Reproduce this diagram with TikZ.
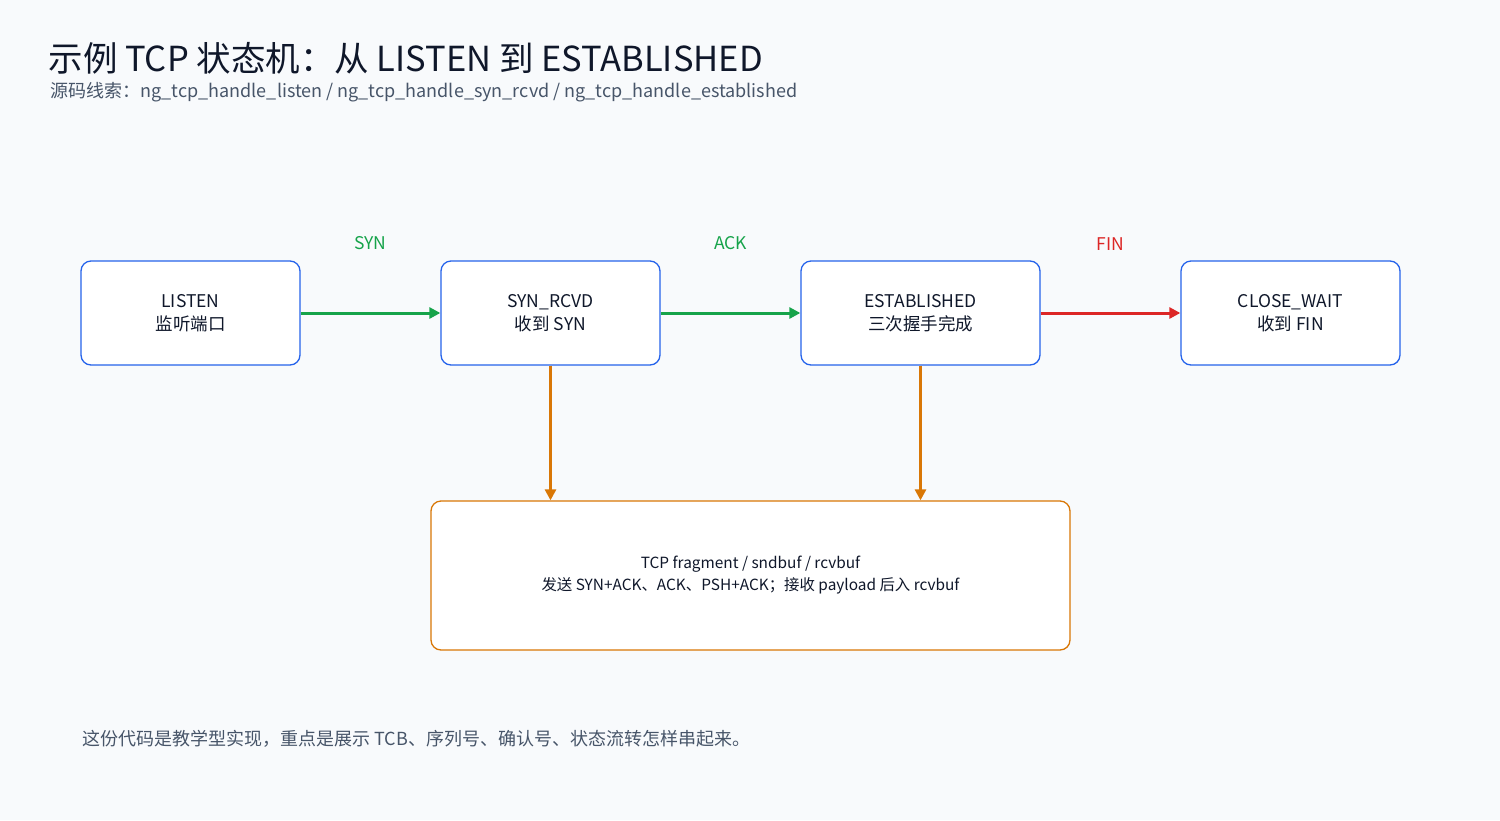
\documentclass[tikz,border=0pt]{standalone}
\usepackage{fontspec}
\setmainfont{Noto Sans CJK SC}
\usetikzlibrary{arrows.meta,positioning}
\definecolor{bgc}{HTML}{F8FAFC}
\definecolor{stateblue}{HTML}{2563EB}
\definecolor{okgreen}{HTML}{16A34A}
\definecolor{finred}{HTML}{DC2626}
\definecolor{bufor}{HTML}{D97706}
\definecolor{titlec}{HTML}{0F172A}
\definecolor{subc}{HTML}{475569}
\tikzset{
  state/.style={draw=stateblue,line width=1.3pt,fill=white,rounded corners=10pt,
    minimum height=104pt,align=center,font=\fontsize{17.5}{23}\selectfont,text=titlec},
  trans/.style={line width=3pt,-{Triangle[length=11pt,width=11pt]}},
  lbl/.style={font=\fontsize{17.5}{20}\selectfont}
}
\begin{document}
\begin{tikzpicture}[x=1pt,y=1pt,yscale=-1]
\fill[bgc] (0,0) rectangle (1500,820);
\useasboundingbox (0,0) rectangle (1500,820);

% title
\node[anchor=west,text=titlec,font=\fontsize{34.5}{38}\selectfont] (title) at (45,58) {示例 TCP 状态机：从 LISTEN 到 ESTABLISHED};
\node[anchor=west,text=subc,font=\fontsize{18}{20}\selectfont] (sub) at (47,92) {源码线索：ng\_tcp\_handle\_listen / ng\_tcp\_handle\_syn\_rcvd / ng\_tcp\_handle\_established};

% states
\node[state,minimum width=219pt] (listen) at (190.5,313) {LISTEN\\监听端口};
\node[state,minimum width=219pt] (synrcvd) at (550.5,313) {SYN\_RCVD\\收到 SYN};
\node[state,minimum width=239pt] (estab) at (920.5,313) {ESTABLISHED\\三次握手完成};
\node[state,minimum width=219pt] (closewait) at (1290.5,313) {CLOSE\_WAIT\\收到 FIN};

% buffer box
\node[draw=bufor,line width=1.3pt,fill=white,rounded corners=10pt,minimum width=639pt,
  minimum height=149pt,align=center,font=\fontsize{15.4}{22}\selectfont,text=titlec] (frag) at (750.5,575.5)
  {TCP fragment / sndbuf / rcvbuf\\发送 SYN+ACK、ACK、PSH+ACK；接收 payload 后入 rcvbuf};

% transitions
\draw[trans,okgreen] (listen) -- node[lbl,above=58pt] {SYN} (synrcvd);
\draw[trans,okgreen] (synrcvd) -- node[lbl,above=58pt] {ACK} (estab);
\draw[trans,finred] (estab) -- node[lbl,above=58pt] {FIN} (closewait);
\draw[trans,bufor] (synrcvd) -- (synrcvd |- frag.north);
\draw[trans,bufor] (estab) -- (estab |- frag.north);

% footer
\node[anchor=west,text=subc,font=\fontsize{18}{20}\selectfont] (note) at (79,739) {这份代码是教学型实现，重点是展示 TCB、序列号、确认号、状态流转怎样串起来。};
\end{tikzpicture}
\end{document}
